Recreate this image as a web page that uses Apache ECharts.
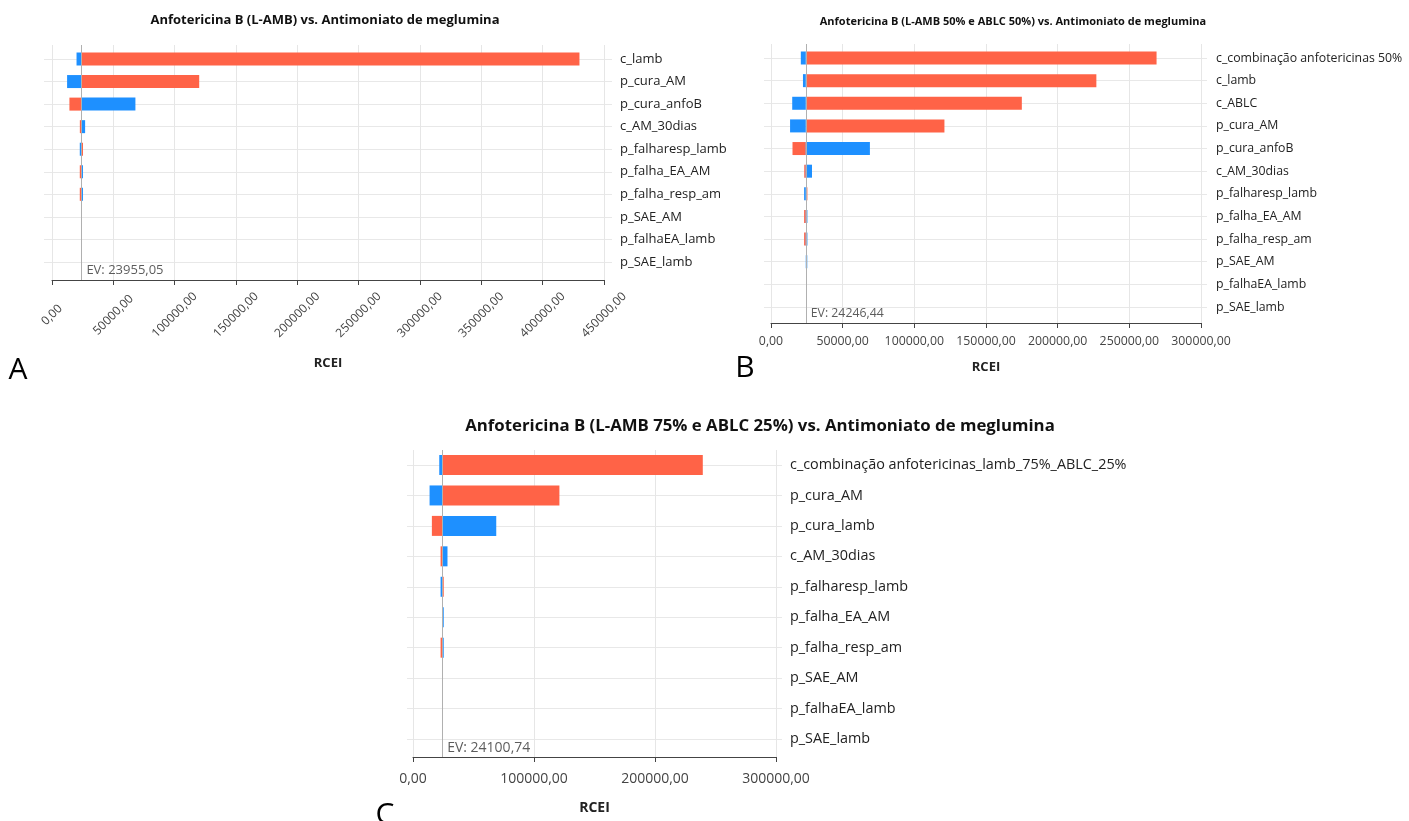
<!DOCTYPE html>
<html><head><meta charset="utf-8">
<script src="https://cdn.jsdelivr.net/npm/echarts@6/dist/echarts.min.js"></script>
<style>html,body{margin:0;padding:0;background:#fff}#c{width:1409px;height:821px}</style>
</head><body><div id="c"></div>
<script>
// ---------- DATA ----------
const titleA = 'Anfotericina B (L-AMB) vs. Antimoniato de meglumina';
const catsA = ['c_lamb','p_cura_AM','p_cura_anfoB','c_AM_30dias','p_falharesp_lamb','p_falha_EA_AM','p_falha_resp_am','p_SAE_AM','p_falhaEA_lamb','p_SAE_lamb'];
const evA = 23955.05;
const redA  = [430000, 120000, 14200, 22700, 25250, 22650, 22650, 23955.05, 23955.05, 23955.05];
const blueA = [ 20000,  12300, 68000, 27000, 22650, 25250, 25250, 23955.05, 23955.05, 23955.05];

const titleB = 'Anfotericina B (L-AMB 50% e ABLC 50%) vs. Antimoniato de meglumina';
const catsB = ['c_combinação anfotericinas 50%','c_lamb','c_ABLC','p_cura_AM','p_cura_anfoB','c_AM_30dias','p_falharesp_lamb','p_falha_EA_AM','p_falha_resp_am','p_SAE_AM','p_falhaEA_lamb','p_SAE_lamb'];
const evB = 24246.44;
const redB  = [269000, 227000, 175000, 121000, 15000, 23200, 25400, 23100, 23100, 24246.44, 24246.44, 24246.44];
const blueB = [ 20800,  22300,  14800,  13300, 69000, 28600, 23100, 25400, 25400, 25300, 24246.44, 24246.44];

const titleC = 'Anfotericina B (L-AMB 75% e ABLC 25%) vs. Antimoniato de meglumina';
const catsC = ['c_combinação anfotericinas_lamb_75%_ABLC_25%','p_cura_AM','p_cura_lamb','c_AM_30dias','p_falharesp_lamb','p_falha_EA_AM','p_falha_resp_am','p_SAE_AM','p_falhaEA_lamb','p_SAE_lamb'];
const evC = 24100.74;
const redC  = [239500, 121000, 15600, 22800, 25400, 24100.74, 22800, 24100.74, 24100.74, 24100.74];
const blueC = [ 21700,  13700, 68800, 28500, 22800, 25400, 25400, 24100.74, 24100.74, 24100.74];

const axisName = 'RCEI';
const letters = ['A', 'B', 'C'];

// ---------- LAYOUT ----------
const W = 1409, H = 821;
const FONT = '"Open Sans", "Noto Sans", sans-serif';
const RED = '#FF6347', BLUE = '#1E90FF';
const panels = [
  {title: titleA, cats: catsA, ev: evA, red: redA, blue: blueA,
   x0: 52, x1: 604, top: 45, axisY: 280, gx0: 44, gx1: 612, row0: 59, rowN: 262,
   max: 450000, interval: 50000, rotate: 45, tickFs: 12, tickMargin: 35, centerLabels: true, nameGap: 77, nameFs: 13,
   catFs: 13, catMargin: 8, barW: 13, evDy: -16, evFs: 13,
   tx: 325, ty: 20, titleFs: 13, lx: 18, ly: 370},
  {title: titleB, cats: catsB, ev: evB, red: redB, blue: blueB,
   x0: 771, x1: 1201, top: 44, axisY: 323, gx0: 764, gx1: 1207, row0: 58, rowN: 307,
   max: 300000, interval: 50000, rotate: 0, tickFs: 12.3, tickMargin: 12, centerLabels: false, nameGap: 38, nameFs: 13,
   catFs: 12.3, catMargin: 9, barW: 13, evDy: -16, evFs: 12.3,
   tx: 1013, ty: 22, titleFs: 11, lx: 745, ly: 368},
  {title: titleC, cats: catsC, ev: evC, red: redC, blue: blueC,
   x0: 413, x1: 776, top: 450, axisY: 757, gx0: 407, gx1: 782, row0: 465, rowN: 739,
   max: 300000, interval: 100000, rotate: 0, tickFs: 14, tickMargin: 15, centerLabels: false, nameGap: 44, nameFs: 14,
   catFs: 14.4, catMargin: 8, barW: 20, evDy: -16, evFs: 14,
   tx: 760, ty: 426, titleFs: 16.8, lx: 385, ly: 815}
];

function fmt(v) { return v.toFixed(2).replace('.', ','); }

const grid = [], xAxis = [], yAxis = [], series = [], graphic = [];
panels.forEach((p, i) => {
  const ga = 2 * i, gb = 2 * i + 1;
  const ppu = (p.x1 - p.x0) / p.max;
  // axis grid
  grid.push({left: p.x0, right: W - p.x1, top: p.top, bottom: H - p.axisY, containLabel: false});
  const lab = {rotate: p.rotate, formatter: fmt, color: '#444', fontSize: p.tickFs, fontFamily: FONT, margin: p.tickMargin};
  if (p.centerLabels) { lab.align = 'center'; lab.verticalAlign = 'middle'; }
  xAxis.push({type: 'value', gridIndex: ga, min: 0, max: p.max, interval: p.interval,
    axisLine: {show: true, lineStyle: {color: '#444', width: 1}},
    axisTick: {show: true, length: 5, lineStyle: {color: '#444'}},
    axisLabel: lab,
    splitLine: {show: true, lineStyle: {color: '#e6e6e6', width: 1}},
    name: axisName, nameLocation: 'middle', nameGap: p.nameGap,
    nameTextStyle: {fontWeight: 'bold', fontSize: p.nameFs, color: '#222', fontFamily: FONT}});
  yAxis.push({type: 'value', gridIndex: ga, min: 0, max: 1, show: false});
  // bar grid
  grid.push({left: p.gx0, right: W - p.gx1, top: p.row0, bottom: H - p.rowN, containLabel: false});
  xAxis.push({type: 'value', gridIndex: gb, min: -(p.x0 - p.gx0) / ppu, max: p.max + (p.gx1 - p.x1) / ppu, show: false,
    splitLine: {show: false}});
  yAxis.push({type: 'category', gridIndex: gb, data: p.cats, inverse: true, boundaryGap: false, position: 'right',
    axisLine: {show: false}, axisTick: {show: false},
    axisLabel: {interval: 0, margin: p.catMargin, color: '#222', fontSize: p.catFs, fontFamily: FONT},
    splitLine: {show: true, lineStyle: {color: '#e8e8e8', width: 1}}});

  const base = arr => arr.map(v => Math.min(v, p.ev));
  const len = arr => arr.map(v => Math.abs(v - p.ev));
  const common = {type: 'bar', xAxisIndex: gb, yAxisIndex: gb, barWidth: p.barW, barGap: '-100%', clip: false, silent: true};
  series.push(Object.assign({}, common, {stack: 'r' + i, data: base(p.red), itemStyle: {color: 'rgba(0,0,0,0)'}}));
  series.push(Object.assign({}, common, {stack: 'r' + i, data: len(p.red), itemStyle: {color: RED}}));
  series.push(Object.assign({}, common, {stack: 'b' + i, data: base(p.blue), itemStyle: {color: 'rgba(0,0,0,0)'}}));
  series.push(Object.assign({}, common, {stack: 'b' + i, data: len(p.blue), itemStyle: {color: BLUE}}));
  // EV line + label
  series.push({type: 'scatter', xAxisIndex: ga, yAxisIndex: ga, data: [[p.ev, 0]], symbolSize: 0, z: 5, silent: true,
    label: {show: true, position: [5, p.evDy], formatter: () => 'EV: ' + fmt(p.ev), color: '#333', fontSize: p.evFs, fontFamily: FONT},
    markLine: {symbol: 'none', silent: true, label: {show: false}, animation: false,
      lineStyle: {color: '#b0b0b0', width: 1, type: 'solid'}, data: [{xAxis: p.ev}]}});

  graphic.push({type: 'text', x: p.tx, y: p.ty, style: {text: p.title, align: 'center', verticalAlign: 'middle',
    fontSize: p.titleFs, fontWeight: 'bold', fontFamily: FONT, fill: '#111'}});
  graphic.push({type: 'text', x: p.lx, y: p.ly, style: {text: letters[i], align: 'center', verticalAlign: 'middle',
    fontSize: 30, fontFamily: FONT, fill: '#000'}});
});

const chart = echarts.init(document.getElementById('c'), null, {renderer: 'canvas'});
chart.setOption({animation: false, backgroundColor: '#fff', grid, xAxis, yAxis, series, graphic});
</script></body></html>
